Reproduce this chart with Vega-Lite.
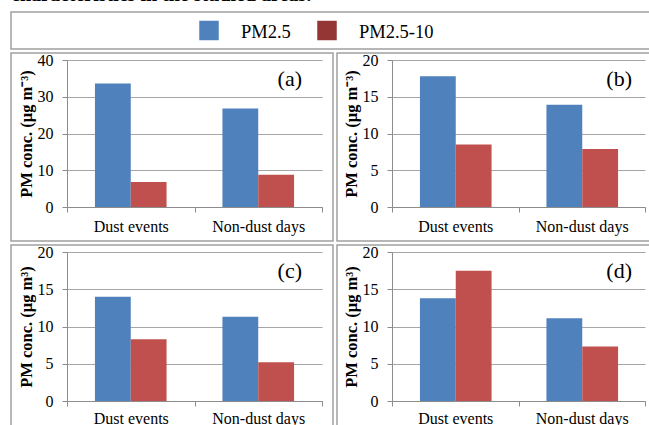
{
  "$schema": "https://vega.github.io/schema/vega-lite/v6.json",
  "padding": {"left": 10, "top": -15, "right": 0, "bottom": 0},
  "title": {"text": "characteristics in the studied areas.", "anchor": "start", "frame": "group", "font": "Liberation Serif", "fontSize": 20, "fontWeight": "bold", "color": "#000000", "baseline": "alphabetic", "offset": -10},
  "resolve": {"scale": {"color": "independent"}},
  "datasets": {
    "pm": [
      {"panel": "a", "period": "Dust events", "species": "PM2.5", "value": 33.6},
      {"panel": "a", "period": "Dust events", "species": "PM2.5-10", "value": 6.8},
      {"panel": "a", "period": "Non-dust days", "species": "PM2.5", "value": 26.8},
      {"panel": "a", "period": "Non-dust days", "species": "PM2.5-10", "value": 8.8},
      {"panel": "b", "period": "Dust events", "species": "PM2.5", "value": 17.8},
      {"panel": "b", "period": "Dust events", "species": "PM2.5-10", "value": 8.5},
      {"panel": "b", "period": "Non-dust days", "species": "PM2.5", "value": 13.9},
      {"panel": "b", "period": "Non-dust days", "species": "PM2.5-10", "value": 7.9},
      {"panel": "c", "period": "Dust events", "species": "PM2.5", "value": 14.0},
      {"panel": "c", "period": "Dust events", "species": "PM2.5-10", "value": 8.3},
      {"panel": "c", "period": "Non-dust days", "species": "PM2.5", "value": 11.3},
      {"panel": "c", "period": "Non-dust days", "species": "PM2.5-10", "value": 5.2},
      {"panel": "d", "period": "Dust events", "species": "PM2.5", "value": 13.8},
      {"panel": "d", "period": "Dust events", "species": "PM2.5-10", "value": 17.5},
      {"panel": "d", "period": "Non-dust days", "species": "PM2.5", "value": 11.1},
      {"panel": "d", "period": "Non-dust days", "species": "PM2.5-10", "value": 7.3}
    ],
    "legend": [{"series": "PM2.5"}, {"series": "PM2.5-10"}]
  },
  "config": {
    "view": {"stroke": "#a0a0a0", "strokeWidth": 1.5},
    "font": "Liberation Serif",
    "axis": {
      "labelFont": "Liberation Serif", "labelFontSize": 16, "labelColor": "#000000",
      "titleFont": "Liberation Serif", "titleColor": "#000000",
      "domainColor": "#8c8c8c", "tickColor": "#8c8c8c", "gridColor": "#a6a6a6",
      "tickSize": 5, "domainWidth": 1, "tickWidth": 1, "gridWidth": 1
    },
    "title": {"font": "Liberation Serif", "color": "#000000"}
  },
  "spacing": 1,
  "vconcat": [
    {
      "width": 647, "height": 37,
      "data": {"name": "legend"},
      "layer": [
        {
          "mark": {"type": "point", "shape": "square", "filled": true, "opacity": 1, "size": 380},
          "encoding": {
            "x": {"field": "series", "type": "nominal", "scale": {"type": "point", "range": [198, 316], "padding": 0}, "axis": null},
            "color": {"field": "series", "type": "nominal", "scale": {"domain": ["PM2.5", "PM2.5-10"], "range": ["#4F81BD", "#943634"]}, "legend": null}
          }
        },
        {
          "mark": {"type": "text", "align": "left", "baseline": "middle", "dx": 32, "dy": 1, "fontSize": 18.5, "font": "Liberation Serif", "color": "#000000"},
          "encoding": {
            "x": {"field": "series", "type": "nominal", "scale": {"type": "point", "range": [198, 316], "padding": 0}, "axis": null},
            "text": {"field": "series"}
          }
        }
      ]
    },
    {
      "spacing": 2,
      "hconcat": [
        {
          "width": 322, "height": 188,
          "title": {"text": "(a)", "anchor": "end", "frame": "group", "offset": -56, "dx": -31, "fontSize": 22, "fontWeight": "normal", "baseline": "alphabetic"},
          "data": {"name": "pm"},
          "transform": [{"filter": "datum.panel === 'a'"}],
          "mark": {"type": "bar"},
          "encoding": {
            "x": {"field": "period", "type": "nominal", "sort": ["Dust events", "Non-dust days"], "scale": {"range": [56, 311], "paddingInner": 0, "paddingOuter": 0}, "axis": {"title": null, "offset": -34, "tickBand": "extent", "labelAngle": 0, "grid": false, "labelPadding": 6}},
            "xOffset": {"field": "species", "type": "nominal", "sort": ["PM2.5", "PM2.5-10"], "scale": {"paddingInner": 0, "paddingOuter": 0.78}},
            "y": {"field": "value", "type": "quantitative", "scale": {"domain": [0, 40], "range": [154, 7], "nice": false}, "axis": {"values": [0, 10, 20, 30, 40], "offset": -56, "grid": true, "title": "PM conc. (μg m⁻³)", "titleFontSize": 16.5, "titleFontWeight": "bold", "titlePadding": 3, "labelPadding": 9}},
            "color": {"field": "species", "type": "nominal", "scale": {"domain": ["PM2.5", "PM2.5-10"], "range": ["#4F81BD", "#C0504D"]}, "legend": null}
          }
        },
        {
          "width": 322, "height": 188,
          "title": {"text": "(b)", "anchor": "end", "frame": "group", "offset": -56, "dx": -27, "fontSize": 22, "fontWeight": "normal", "baseline": "alphabetic"},
          "data": {"name": "pm"},
          "transform": [{"filter": "datum.panel === 'b'"}],
          "mark": {"type": "bar"},
          "encoding": {
            "x": {"field": "period", "type": "nominal", "sort": ["Dust events", "Non-dust days"], "scale": {"range": [55, 308], "paddingInner": 0, "paddingOuter": 0}, "axis": {"title": null, "offset": -34, "tickBand": "extent", "labelAngle": 0, "grid": false, "labelPadding": 6}},
            "xOffset": {"field": "species", "type": "nominal", "sort": ["PM2.5", "PM2.5-10"], "scale": {"paddingInner": 0, "paddingOuter": 0.78}},
            "y": {"field": "value", "type": "quantitative", "scale": {"domain": [0, 20], "range": [154, 7], "nice": false}, "axis": {"values": [0, 5, 10, 15, 20], "offset": -55, "grid": true, "title": "PM conc. (μg m⁻³)", "titleFontSize": 16.5, "titleFontWeight": "bold", "titlePadding": 3, "labelPadding": 9}},
            "color": {"field": "species", "type": "nominal", "scale": {"domain": ["PM2.5", "PM2.5-10"], "range": ["#4F81BD", "#C0504D"]}, "legend": null}
          }
        }
      ]
    },
    {
      "spacing": 2,
      "hconcat": [
        {
          "width": 322, "height": 188,
          "title": {"text": "(c)", "anchor": "end", "frame": "group", "offset": -56, "dx": -31, "fontSize": 22, "fontWeight": "normal", "baseline": "alphabetic"},
          "data": {"name": "pm"},
          "transform": [{"filter": "datum.panel === 'c'"}],
          "mark": {"type": "bar"},
          "encoding": {
            "x": {"field": "period", "type": "nominal", "sort": ["Dust events", "Non-dust days"], "scale": {"range": [56, 311], "paddingInner": 0, "paddingOuter": 0}, "axis": {"title": null, "offset": -32, "tickBand": "extent", "labelAngle": 0, "grid": false, "labelPadding": 4}},
            "xOffset": {"field": "species", "type": "nominal", "sort": ["PM2.5", "PM2.5-10"], "scale": {"paddingInner": 0, "paddingOuter": 0.78}},
            "y": {"field": "value", "type": "quantitative", "scale": {"domain": [0, 20], "range": [156, 7], "nice": false}, "axis": {"values": [0, 5, 10, 15, 20], "offset": -56, "grid": true, "title": "PM conc. (μg m³)", "titleFontSize": 16.5, "titleFontWeight": "bold", "titlePadding": 3, "labelPadding": 9}},
            "color": {"field": "species", "type": "nominal", "scale": {"domain": ["PM2.5", "PM2.5-10"], "range": ["#4F81BD", "#C0504D"]}, "legend": null}
          }
        },
        {
          "width": 322, "height": 188,
          "title": {"text": "(d)", "anchor": "end", "frame": "group", "offset": -56, "dx": -27, "fontSize": 22, "fontWeight": "normal", "baseline": "alphabetic"},
          "data": {"name": "pm"},
          "transform": [{"filter": "datum.panel === 'd'"}],
          "mark": {"type": "bar"},
          "encoding": {
            "x": {"field": "period", "type": "nominal", "sort": ["Dust events", "Non-dust days"], "scale": {"range": [55, 308], "paddingInner": 0, "paddingOuter": 0}, "axis": {"title": null, "offset": -32, "tickBand": "extent", "labelAngle": 0, "grid": false, "labelPadding": 4}},
            "xOffset": {"field": "species", "type": "nominal", "sort": ["PM2.5", "PM2.5-10"], "scale": {"paddingInner": 0, "paddingOuter": 0.78}},
            "y": {"field": "value", "type": "quantitative", "scale": {"domain": [0, 20], "range": [156, 7], "nice": false}, "axis": {"values": [0, 5, 10, 15, 20], "offset": -55, "grid": true, "title": "PM conc. (μg m³)", "titleFontSize": 16.5, "titleFontWeight": "bold", "titlePadding": 3, "labelPadding": 9}},
            "color": {"field": "species", "type": "nominal", "scale": {"domain": ["PM2.5", "PM2.5-10"], "range": ["#4F81BD", "#C0504D"]}, "legend": null}
          }
        }
      ]
    }
  ]
}
